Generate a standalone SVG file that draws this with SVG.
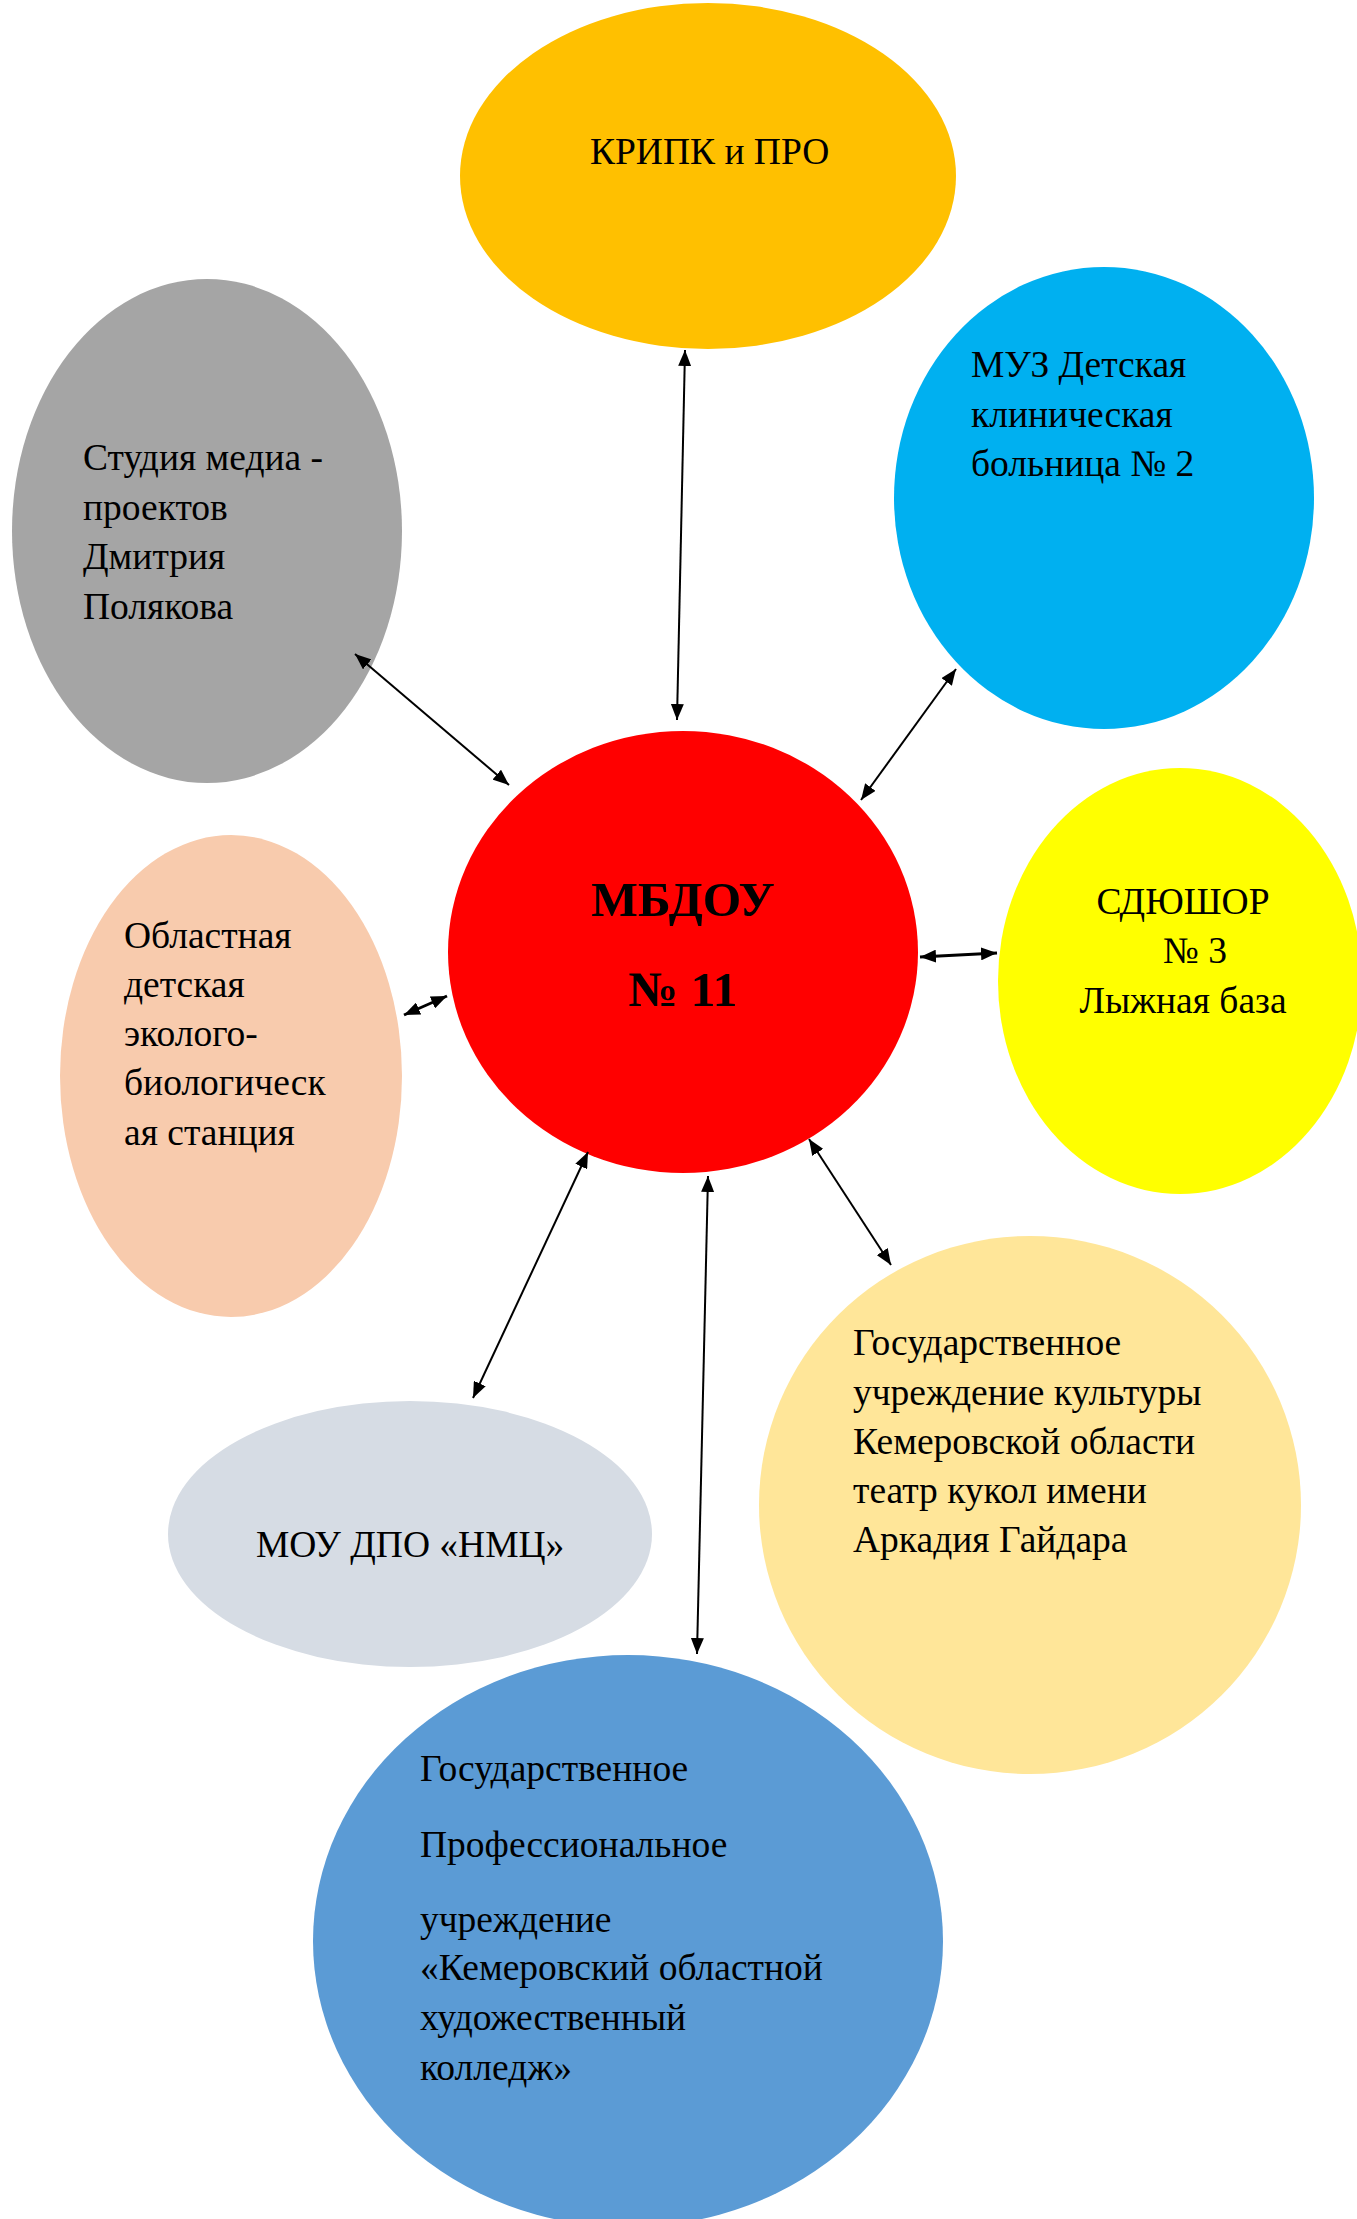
<svg xmlns="http://www.w3.org/2000/svg" width="1357" height="2219" viewBox="0 0 1357 2219">
<style>
.t{font-family:"Liberation Serif","Times New Roman",serif;font-size:37.5px;fill:#000}
.b{font-family:"Liberation Serif","Times New Roman",serif;font-size:49.5px;font-weight:bold;fill:#000}
.c{stroke:#000;stroke-width:2;fill:none;marker-start:url(#ah);marker-end:url(#ah)}
.ct{stroke-width:3}
</style>
<defs>
<marker id="ah" markerUnits="userSpaceOnUse" markerWidth="17" markerHeight="13" refX="16" refY="6.5" orient="auto-start-reverse">
<path d="M0,0 L16,6.5 L0,13 z" fill="#000"/>
</marker>
</defs>
<rect width="1357" height="2219" fill="#fff"/>
<g id="kripk">
<ellipse cx="708" cy="176" rx="248" ry="173" fill="#FFC000"/>
<text class="t" x="590" y="164">КРИПК и ПРО</text>
</g>
<g id="studio">
<ellipse cx="207" cy="531" rx="195" ry="252" fill="#A5A5A5"/>
<text class="t" x="83" y="470">Студия медиа -</text>
<text class="t" x="83" y="520">проектов</text>
<text class="t" x="83" y="569">Дмитрия</text>
<text class="t" x="83" y="619">Полякова</text>
</g>
<g id="muz">
<ellipse cx="1104" cy="498" rx="210" ry="231" fill="#00B0F0"/>
<text class="t" x="971" y="377">МУЗ Детская</text>
<text class="t" x="971" y="427">клиническая</text>
<text class="t" x="971" y="476">больница № 2</text>
</g>
<g id="mbdou">
<ellipse cx="683" cy="952" rx="235" ry="221" fill="#FF0000"/>
<text class="b" x="683" y="916" text-anchor="middle">МБДОУ</text>
<text class="b" x="683" y="1006" text-anchor="middle">№ 11</text>
</g>
<g id="sdyushor">
<ellipse cx="1180" cy="981" rx="182" ry="213" fill="#FFFF00"/>
<text class="t" x="1183" y="914" text-anchor="middle">СДЮШОР</text>
<text class="t" x="1195" y="963" text-anchor="middle">№ 3</text>
<text class="t" x="1183" y="1013" text-anchor="middle">Лыжная база</text>
</g>
<g id="oblast">
<ellipse cx="231" cy="1076" rx="171" ry="241" fill="#F8CBAD"/>
<text class="t" x="124" y="948">Областная</text>
<text class="t" x="124" y="997">детская</text>
<text class="t" x="124" y="1046">эколого-</text>
<text class="t" x="124" y="1095">биологическ</text>
<text class="t" x="124" y="1145">ая станция</text>
</g>
<g id="teatr">
<ellipse cx="1030" cy="1505" rx="271" ry="269" fill="#FFE699"/>
<text class="t" x="853" y="1355">Государственное</text>
<text class="t" x="853" y="1405">учреждение культуры</text>
<text class="t" x="853" y="1454">Кемеровской области</text>
<text class="t" x="853" y="1503">театр кукол имени</text>
<text class="t" x="853" y="1552">Аркадия Гайдара</text>
</g>
<g id="mou">
<ellipse cx="410" cy="1534" rx="242" ry="133" fill="#D6DCE4"/>
<text class="t" x="256" y="1557">МОУ ДПО «НМЦ»</text>
</g>
<g id="kolledzh">
<ellipse cx="628" cy="1941" rx="315" ry="286" fill="#5B9BD5"/>
<text class="t" x="420" y="1781">Государственное</text>
<text class="t" x="420" y="1857">Профессиональное</text>
<text class="t" x="420" y="1932">учреждение</text>
<text class="t" x="420" y="1980">«Кемеровский областной</text>
<text class="t" x="420" y="2030">художественный</text>
<text class="t" x="420" y="2080">колледж»</text>
</g>
<g id="connectors">
<line class="c" x1="685" y1="350" x2="677" y2="720"/>
<line class="c" x1="355" y1="654" x2="509" y2="785"/>
<line class="c" x1="956" y1="669" x2="861" y2="800"/>
<line class="c ct" x1="997" y1="953" x2="920" y2="957"/>
<line class="c ct" x1="404" y1="1015" x2="447" y2="996"/>
<line class="c" x1="473" y1="1398" x2="588" y2="1152"/>
<line class="c" x1="697" y1="1654" x2="708" y2="1176"/>
<line class="c" x1="891" y1="1265" x2="809" y2="1139"/>
</g>
</svg>
